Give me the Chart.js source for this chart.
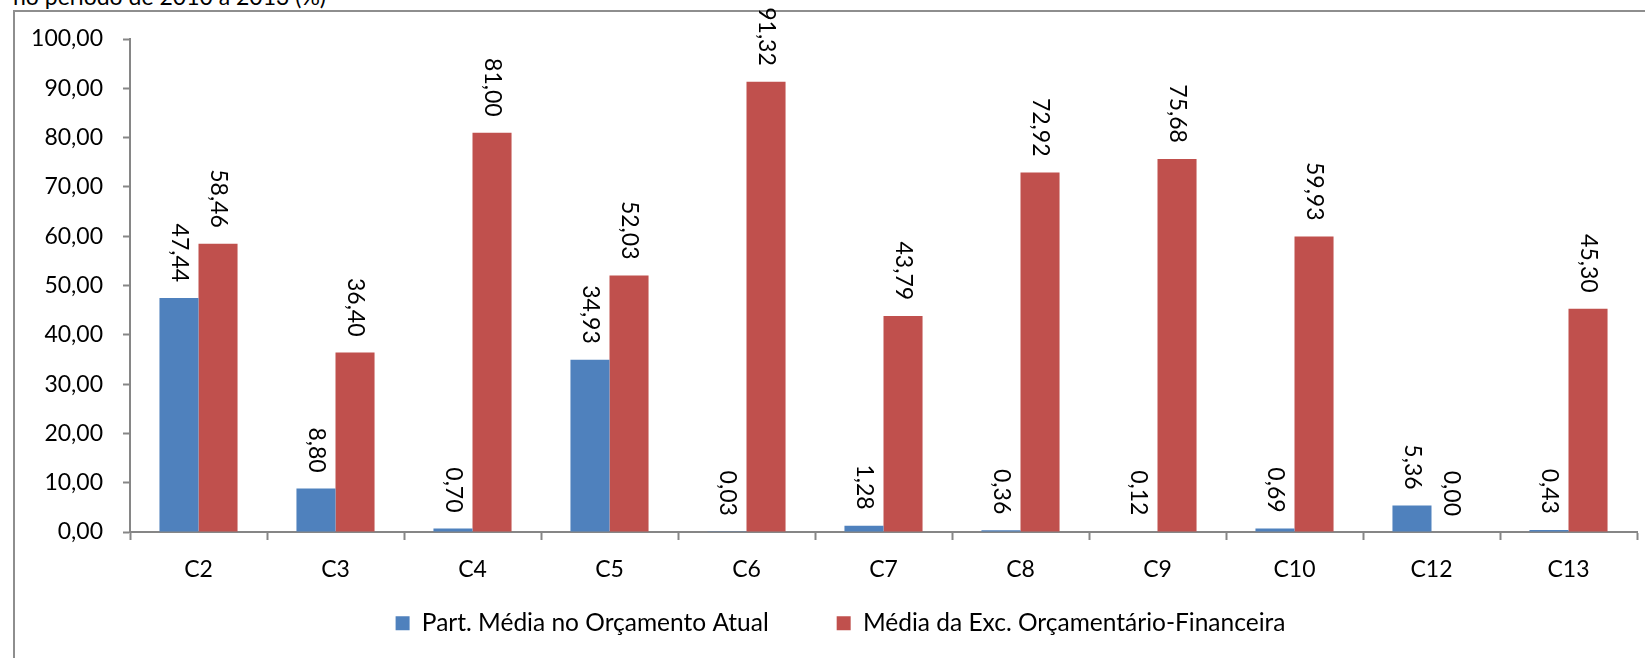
<!DOCTYPE html>
<html lang="pt">
<head>
<meta charset="utf-8">
<script src="https://cdn.jsdelivr.net/npm/chart.js@4.4.1/dist/chart.umd.min.js"></script>
<style>
    html, body { margin: 0; padding: 0; background: #fff; overflow: hidden; }
    body { width: 1645px; height: 658px; position: relative; font-family: Lato, sans-serif; }
    .caption { position: absolute; left: 13px; top: -15px; font-size: 23px; line-height: 23px; color: #000; white-space: nowrap; }
    .frame { position: absolute; left: 13px; top: 10px; width: 1700px; height: 700px; border: 2px solid #8e8e8e; box-sizing: border-box; }
    .chart-box { position: absolute; left: 0; top: 0; width: 1645px; height: 658px; }
</style>
</head>
<body>
<div class="caption">no período de 2010 a 2013 (%)</div>
<div class="frame"></div>
<div class="chart-box"><canvas id="execChart"></canvas></div>
<script>
const categories = ['C2', 'C3', 'C4', 'C5', 'C6', 'C7', 'C8', 'C9', 'C10', 'C12', 'C13'];
const partMedia = [47.44, 8.80, 0.70, 34.93, 0.03, 1.28, 0.36, 0.12, 0.69, 5.36, 0.43];
const mediaExec = [58.46, 36.40, 81.00, 52.03, 91.32, 43.79, 72.92, 75.68, 59.93, 0.00, 45.30];
const yTickValues = [0, 10, 20, 30, 40, 50, 60, 70, 80, 90, 100];

const seriesNames = ['Part. Média no Orçamento Atual', 'Média da Exc. Orçamentário-Financeira'];
const seriesColors = ['#4f81bd', '#c0504d'];

function formatBR(v) {
    return Number(v).toFixed(2).replace('.', ',');
}

// rotated value labels above each bar
const barLabels = {
    id: 'barLabels',
    afterDatasetsDraw(chart) {
        const ctx = chart.ctx;
        ctx.save();
        ctx.font = '23px Lato';
        ctx.fillStyle = '#000';
        ctx.textAlign = 'right';
        ctx.textBaseline = 'middle';
        chart.data.datasets.forEach((ds, i) => {
            chart.getDatasetMeta(i).data.forEach((bar, j) => {
                ctx.save();
                ctx.translate(bar.x, bar.y - 16);
                ctx.rotate(Math.PI / 2);
                ctx.fillText(formatBR(ds.data[j]), 0, 0);
                ctx.restore();
            });
        });
        ctx.restore();
    }
};

// nudge legend so it sits where the original one is
const legendShift = {
    id: 'legendShift',
    afterLayout(chart) {
        const lg = chart.legend;
        if (lg) {
            lg.left += 22;
            lg.right += 22;
            lg.top -= 39;
            lg.bottom = chart.height;
        }
    }
};

Chart.defaults.font.family = 'Lato';
Chart.defaults.color = '#000';

new Chart(document.getElementById('execChart'), {
    type: 'bar',
    data: {
        labels: categories,
        datasets: [
            { label: seriesNames[0], data: partMedia, backgroundColor: seriesColors[0] },
            { label: seriesNames[1], data: mediaExec, backgroundColor: seriesColors[1] }
        ]
    },
    options: {
        responsive: true,
        maintainAspectRatio: false,
        animation: false,
        layout: { padding: { top: 39, right: 8, bottom: 0, left: 0 } },
        datasets: {
            bar: { categoryPercentage: 0.57, barPercentage: 1.0 }
        },
        scales: {
            x: {
                grid: {
                    display: true,
                    drawOnChartArea: false,
                    offset: true,
                    color: '#868686',
                    tickLength: 8,
                    tickWidth: 2
                },
                border: { color: '#868686', width: 2 },
                ticks: { font: { size: 23 }, padding: 16 },
                afterFit(scale) { scale.height = 50; }
            },
            y: {
                min: 0,
                max: 100,
                grid: {
                    display: true,
                    drawOnChartArea: false,
                    color: '#868686',
                    tickLength: 7,
                    tickWidth: 2
                },
                border: { color: '#868686', width: 2 },
                afterBuildTicks(scale) {
                    scale.ticks = yTickValues.map(v => ({ value: v }));
                },
                ticks: {
                    font: { size: 23 },
                    padding: 20,
                    callback: function(value) {
                        return formatBR(value);
                    }
                },
                afterFit(scale) { scale.width = 130; }
            }
        },
        plugins: {
            legend: {
                position: 'bottom',
                maxHeight: 76,
                labels: {
                    font: { size: 24.5 },
                    boxWidth: 14,
                    boxHeight: 14,
                    padding: 68
                }
            },
            tooltip: { enabled: false }
        }
    },
    plugins: [barLabels, legendShift]
});
</script>
</body>
</html>
